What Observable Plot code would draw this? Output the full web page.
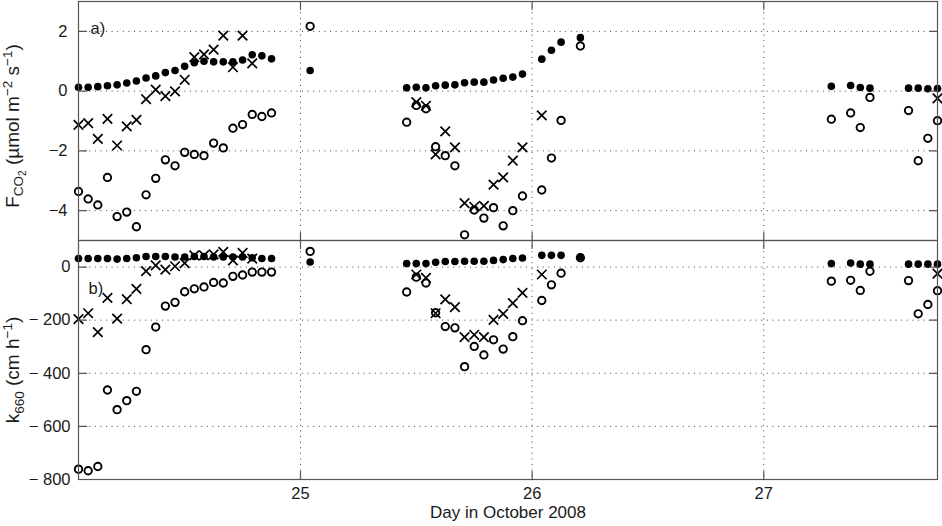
<!DOCTYPE html>
<html><head><meta charset="utf-8">
<script src="https://cdn.jsdelivr.net/npm/d3@7"></script>
<script src="https://cdn.jsdelivr.net/npm/@observablehq/plot@0.6"></script>
<style>
body{margin:0;background:#fff;}
#chart svg{display:block;overflow:visible;}
</style>
</head><body><div id="chart"></div>
<script>
// hour of observation, counted from 24 October 2008 00:00
const hours = [1,2,3,4,5,6,7,8,9,10,11,12,13,14,15,16,17,18,19,20,21,
  25,
  35,36,37,38,39,40,41,42,43,44,45,46,47,
  49,50,51,53,
  79,81,82,83,
  87,88,89,90];

// panel a) F_CO2 (µmol m-2 s-1)
const fluxFilled = [0.13,0.13,0.15,0.18,0.21,0.27,0.34,0.44,0.51,0.62,0.69,0.83,0.95,1.0,0.98,0.98,0.98,1.04,1.22,1.18,1.08,
  0.69,
  0.11,0.13,0.11,0.18,0.2,0.21,0.28,0.3,0.3,0.37,0.43,0.47,0.57,
  1.07,1.37,1.64,1.79,
  0.16,0.19,0.12,0.1,
  0.1,0.1,0.08,0.09];
const fluxOpen = [-3.36,-3.61,-3.81,-2.89,-4.2,-4.05,-4.54,-3.47,-2.92,-2.3,-2.5,-2.05,-2.12,-2.16,-1.74,-1.9,-1.24,-1.12,-0.78,-0.85,-0.73,
  2.17,
  -1.04,-0.48,-0.59,-1.86,-2.16,-2.5,-4.81,-3.98,-4.25,-3.9,-4.51,-4.0,-3.51,
  -3.31,-2.24,-0.98,1.51,
  -0.94,-0.73,-1.22,-0.21,
  -0.65,-2.33,-1.58,-0.99];
const fluxCross = [-1.13,-1.07,-1.6,-0.93,-1.82,-1.18,-0.96,-0.27,0.05,-0.17,-0.01,0.38,1.14,1.23,1.39,1.86,0.8,1.86,0.93,null,null,
  null,
  null,-0.37,-0.49,-2.12,-1.35,-1.88,-3.75,-3.87,-3.84,-3.13,-2.89,-2.33,-1.88,
  -0.81,null,null,null,
  null,null,null,null,
  null,null,null,-0.24];

// panel b) k660 (cm h-1)
const kFilled = [32,32,32,32,30,32,35,40,40,40,38,38,40,40,38,38,38,38,35,32,32,
  19,
  13,13,13,18,21,21,22,22,22,25,28,32,34,
  44,44,44,38,
  13,15,11,11,
  11,11,11,11];
const kOpen = [-761,-767,-751,-463,-537,-503,-468,-311,-226,-147,-133,-93,-82,-75,-58,-60,-35,-30,-19,-19,-19,
  59,
  -94,-38,-60,-172,-224,-229,-375,-299,-331,-274,-309,-262,-202,
  -126,-67,-23,35,
  -53,-50,-88,-16,
  -51,-176,-141,-89];
const kCross = [-196,-174,-245,-116,-194,-121,-82,-15,6,-10,3,15,44,44,48,57,25,53,32,null,null,
  null,
  null,-28,-41,-174,-122,-151,-264,-255,-264,-199,-176,-136,-97,
  -28,null,null,null,
  null,null,null,null,
  null,null,null,-25];

const xTicks = [25, 26, 27];
const yTicksTop = [2, 0, -2, -4];
const yTicksBottom = [0, -200, -400, -600, -800];
const xDomain = [24 + 1/24, 24 + 90/24];

const rows = hours.map((h, i) => ({
  day: 24 + h / 24,
  fluxFilled: fluxFilled[i], fluxOpen: fluxOpen[i], fluxCross: fluxCross[i],
  kFilled: kFilled[i], kOpen: kOpen[i], kCross: kCross[i]
}));

const FONT = "'Liberation Sans', Arial, Helvetica, sans-serif";
const FRAME = "#555";
const INK = "#1a1a1a";
const tickShape = {draw(ctx, l) { ctx.moveTo(0, 0); ctx.lineTo(0, -l); }};

function inwardTicks(yt) {
  const o = {stroke: FRAME, strokeWidth: 1.2, length: 8, anchor: "start", shape: tickShape};
  return [
    Plot.vector(yt, {...o, y: d => d, frameAnchor: "left", rotate: 90}),
    Plot.vector(yt, {...o, y: d => d, frameAnchor: "right", rotate: -90}),
    Plot.vector(xTicks, {...o, x: d => d, frameAnchor: "top", rotate: 180}),
    Plot.vector(xTicks, {...o, x: d => d, frameAnchor: "bottom", rotate: 0})
  ];
}
function grids(yt) {
  const g = {stroke: "#222", strokeOpacity: 0.85, strokeWidth: 1, strokeDasharray: "1,4.6"};
  return [Plot.gridY(yt, g), Plot.gridX(xTicks, g)];
}
function dots(key) {
  return [
    Plot.dot(rows.filter(d => d[key + "Open"] != null), {x: "day", y: key + "Open", r: 3.7, stroke: "black", strokeWidth: 1.9, fill: "none"}),
    Plot.dot(rows.filter(d => d[key + "Cross"] != null), {x: "day", y: key + "Cross", symbol: "times", r: 4.4, stroke: "black", strokeWidth: 1.7}),
    Plot.dot(rows.filter(d => d[key + "Filled"] != null), {x: "day", y: key + "Filled", r: 3.8, fill: "black", stroke: "none"})
  ];
}

const topPlot = Plot.plot({
  width: 942, height: 240,
  marginLeft: 78, marginRight: 5, marginTop: 1, marginBottom: 0,
  style: {fontFamily: FONT, fontSize: "16px", color: INK, background: "white", overflow: "visible"},
  x: {domain: xDomain, axis: null},
  y: {domain: [-5, 3], axis: null},
  marks: [
    ...grids(yTicksTop),
    ...dots("flux"),
    Plot.frame({stroke: FRAME, strokeWidth: 1.2}),
    ...inwardTicks(yTicksTop),
    Plot.axisY(yTicksTop, {tickSize: 0, tickPadding: 11, label: null, fontSize: 16.5,
      tickFormat: d => d < 0 ? "\u2212" + (-d) : String(d)}),
    Plot.text(["a)"], {frameAnchor: "top-left", dx: 12, dy: 21, textAnchor: "start", fontSize: 16.5, text: d => d})
  ]
});

const bottomPlot = Plot.plot({
  width: 942, height: 286,
  marginLeft: 78, marginRight: 5, marginTop: 0, marginBottom: 47,
  style: {fontFamily: FONT, fontSize: "16px", color: INK, background: "white", overflow: "visible"},
  x: {domain: xDomain, axis: null},
  y: {domain: [-800, 100], axis: null},
  marks: [
    ...grids(yTicksBottom),
    ...dots("k"),
    Plot.frame({stroke: FRAME, strokeWidth: 1.2}),
    ...inwardTicks(yTicksBottom),
    Plot.axisY(yTicksBottom, {tickSize: 0, tickPadding: 8, label: null, fontSize: 16.5,
      tickFormat: d => d < 0 ? "\u2212 " + (-d) : String(d)}),
    Plot.axisX(xTicks, {tickSize: 0, tickPadding: 8, label: null, fontSize: 16.5, tickFormat: d => String(d)}),
    Plot.text(["b)"], {frameAnchor: "top-left", dx: 10, dy: 42, textAnchor: "start", fontSize: 16.5, text: d => d}),
    Plot.text(["Day in October 2008"], {frameAnchor: "bottom", dy: 38, fontSize: 17, text: d => d})
  ]
});

const chart = document.getElementById("chart");
chart.append(topPlot, bottomPlot);

// rotated y-axis titles with sub/superscripts
function yTitle(svg, cy, parts) {
  const t = d3.select(svg).append("text")
    .attr("transform", `translate(19,${cy}) rotate(-90)`)
    .attr("text-anchor", "middle")
    .attr("fill", INK)
    .style("font-family", FONT)
    .style("font-size", "18px");
  for (const [txt, dy, fs] of parts) {
    t.append("tspan").attr("dy", dy).style("font-size", fs + "px").text(txt);
  }
}
yTitle(topPlot, 126, [
  ["F", 0, 19], ["CO", 4, 13.5], ["2", 3, 10], [" (\u00b5mol m", -7, 19],
  ["\u22122", -7, 13.5], [" s", 7, 19], ["\u22121", -7, 13.5], [")", 7, 19]
]);
yTitle(bottomPlot, 130, [
  ["k", 0, 19], ["660", 5, 13.5], [" (cm h", -5, 19], ["\u22121", -7, 13.5], [")", 7, 19]
]);
</script>
</body></html>
